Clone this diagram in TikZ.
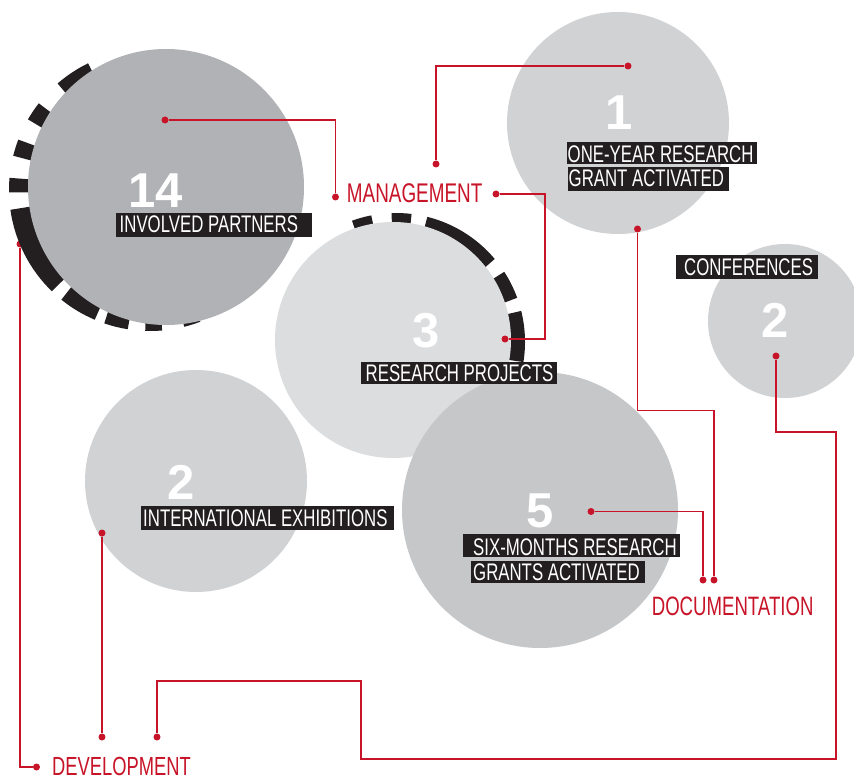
\documentclass[tikz,border=0pt]{standalone}
\usepackage{fontspec}
\newfontfamily\labfont{Liberation Sans}[FakeStretch=0.7]
\newfontfamily\numfont{Liberation Sans}
\definecolor{accent}{RGB}{200,20,40}
\definecolor{boxblack}{RGB}{35,31,32}
\definecolor{gA}{RGB}{177,178,181}
\definecolor{gB}{RGB}{209,210,212}
\definecolor{gC}{RGB}{220,221,223}
\definecolor{gD}{RGB}{198,199,201}
\begin{document}
\begin{tikzpicture}[x=1pt,y=-1pt,
  disc/.style={circle, inner sep=0pt, draw=none},
  dot/.style={circle, fill=accent, inner sep=0pt, minimum size=7pt},
  wire/.style={draw=accent, line width=1.2pt},
  lbox/.style={fill=boxblack, inner sep=0pt, anchor=north west},
  ltext/.style={font=\labfont\fontsize{24}{24}\selectfont, text=white, inner sep=0pt, anchor=base west},
  rtext/.style={font=\labfont\fontsize{#1}{#1}\selectfont, text=accent, inner sep=0pt, anchor=base west},
  num/.style={font=\numfont\bfseries\fontsize{49}{49}\selectfont, text=white, inner sep=0pt, anchor=base},
  ringA/.style={draw=boxblack, line width=20pt},
  ringB/.style={draw=boxblack, line width=16pt}]
\useasboundingbox (0,0) rectangle (854,778);
\fill[white] (0,0) rectangle (854,778);
\clip (0,0) rectangle (854,778);

% left development line (under the dashed ring)
\node[dot] (dLtop) at (20,244) {};
\node[dot] (dDevL) at (36.5,767) {};
\draw[wire] (dLtop) |- (dDevL);

% dashed ring behind the 14 circle
\foreach \s/\e in {-116/-131,-142/-150,-159/-166,-175/-181,-188/-226,-231/-247,-251/-261,-268/-275,-284/-291}
  \draw[ringA] ([shift={(150,190)}]\s:131) arc[start angle=\s, end angle=\e, radius=131];
\node[disc, fill=gA, minimum size=276pt] (c14) at (166,187) {};

% dashed ring behind the 3 circle
\foreach \s/\e in {-101/-110,-83/-92,-40/-76,-20/-33,9/-14}
  \draw[ringB] ([shift={(396,342)}]\s:121) arc[start angle=\s, end angle=\e, radius=121];
\node[disc, fill=gC, minimum size=236pt] (c3) at (393,340) {};

\node[disc, fill=gB, minimum size=222pt] (c1) at (618,123) {};
\node[disc, fill=gB, minimum size=222pt] (c2l) at (196,481) {};
\node[disc, fill=gB, minimum size=154pt] (c2r) at (785,321) {};
\node[disc, fill=gD, minimum size=276pt] (c5) at (540,510) {};

% numbers
\node[num] (n14) at (156,208) {14};
\node[num] (n1) at (619,130) {1};
\node[num] (n3) at (426.5,347) {3};
\node[num] (n2l) at (181.5,499) {2};
\node[num] (n5) at (540.5,527) {5};
\node[num] (n2r) at (775,337) {2};

% label boxes
\node[lbox, minimum width=196pt, minimum height=24pt] (b14) at (116,213) {};
\node[ltext] (t14) at (119.5,232.5) {INVOLVED PARTNERS};
\node[lbox, minimum width=190pt, minimum height=22pt] (b1a) at (567,142) {};
\node[ltext] (t1a) at (567.5,162.3) {ONE-YEAR RESEARCH};
\node[lbox, minimum width=161pt, minimum height=24pt] (b1b) at (568,167) {};
\node[ltext] (t1b) at (568.5,187) {GRANT ACTIVATED};
\node[lbox, minimum width=142pt, minimum height=24pt] (bcf) at (676,255) {};
\node[ltext] (tcf) at (684,275) {CONFERENCES};
\node[lbox, minimum width=196pt, minimum height=22pt] (b3) at (361,362) {};
\node[ltext] (t3) at (365.5,381.7) {RESEARCH PROJECTS};
\node[lbox, minimum width=253pt, minimum height=24pt] (bie) at (141,506) {};
\node[ltext] (tie) at (143,526.7) {INTERNATIONAL EXHIBITIONS};
\node[lbox, minimum width=217pt, minimum height=23pt] (b5a) at (463,534) {};
\node[ltext] (t5a) at (473,555) {SIX-MONTHS RESEARCH};
\node[lbox, minimum width=174pt, minimum height=22pt] (b5b) at (471,561) {};
\node[ltext] (t5b) at (473,580) {GRANTS ACTIVATED};

% red labels
\node[rtext=27] (lman) at (346.7,202.5) {MANAGEMENT};
\node[rtext=26.6] (ldoc) at (651.6,615) {DOCUMENTATION};
\node[rtext=26.2] (ldev) at (52,775) {DEVELOPMENT};

% dots
\node[dot] (d14) at (165,120) {};
\node[dot] (dMgL) at (335.5,197) {};
\node[dot] (dMgTop) at (436,164) {};
\node[dot] (d1top) at (628,66) {};
\node[dot] (dMgR) at (496,194) {};
\node[dot] (d3) at (505,339) {};
\node[dot] (d1bot) at (637.5,229) {};
\node[dot] (dDoc1) at (703,580) {};
\node[dot] (dDoc2) at (714,580) {};
\node[dot] (d5) at (591,511.5) {};
\node[dot] (d2r) at (776,356) {};
\node[dot] (d2l) at (102,533) {};
\node[dot] (dDev1) at (102,737) {};
\node[dot] (dDev2) at (157,737) {};

% bend points
\coordinate (kE) at (545,339);
\coordinate (kA) at (714,410.5);
\coordinate (kB) at (836,432);
\coordinate (kC) at (361,759);
\coordinate (kD) at (157,681);

% connectors
\draw[wire] (d14) -| (dMgL);
\draw[wire] (d1top) -| (dMgTop);
\draw[wire] (dMgR) -| (kE) -- (d3);
\draw[wire] (d1bot) |- (kA) -- (dDoc2);
\draw[wire] (d5) -| (dDoc1);
\draw[wire] (d2r) |- (kB) |- (kC) |- (kD) -- (dDev2);
\draw[wire] (d2l) -- (dDev1);
\end{tikzpicture}
\end{document}
